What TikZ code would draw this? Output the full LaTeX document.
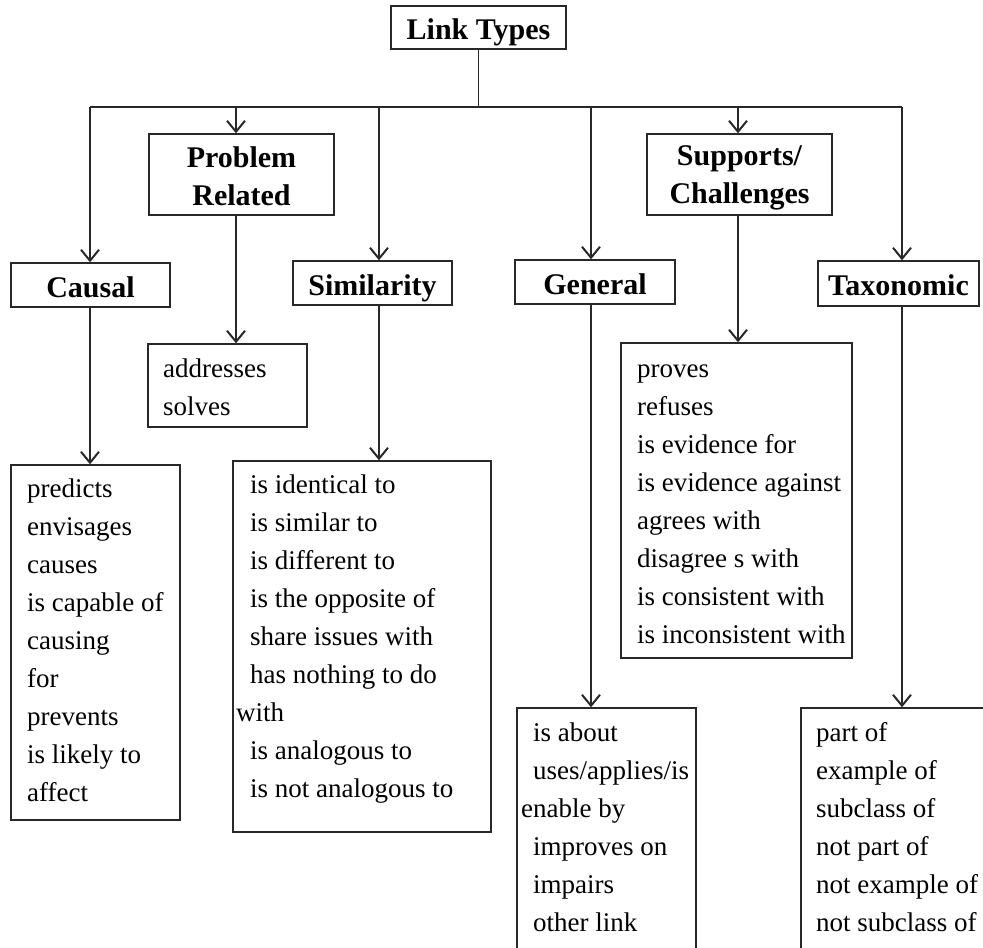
\documentclass[tikz,border=0pt]{standalone}
\usepackage{fontspec}
\setmainfont{Liberation Serif}
\usetikzlibrary{arrows.meta}
\definecolor{ln}{RGB}{40,40,40}
\newcommand{\Li}[1]{\strut #1}
\newcommand{\TopS}{\rule{0pt}{26.6pt}}
\newcommand{\BotS}{\rule[-3.4pt]{0pt}{0pt}}
\begin{document}
\begin{tikzpicture}[x=1pt,y=-1pt,
  box/.style={draw=ln,line width=1.4pt,inner sep=0pt,rectangle},
  hdr/.style={box,font=\bfseries\fontsize{30}{38}\selectfont,align=center},
  one/.style={text height=24pt,text depth=0pt},
  listtext/.style={font=\fontsize{27}{38}\selectfont,align=left,inner sep=0pt,anchor=north west},
  conn/.style={draw=ln,line width=1.3pt},
  arr/.style={conn,-{Straight Barb[length=11pt,width=18pt,line width=2pt]}}]
\useasboundingbox (0,0) rectangle (983,948);
\clip (0,0) rectangle (983,948);
\fill[white] (0,0) rectangle (983,948);
% header nodes
\node[hdr,one,minimum width=175,minimum height=43] (lt) at (478.5,27.5) {Link Types};
\node[hdr,minimum width=185,minimum height=81] (prob) at (241.5,174.5) {\TopS Problem\\Related\BotS};
\node[hdr,minimum width=185,minimum height=81] (supp) at (739.5,174.5) {\TopS Supports/\\Challenges\BotS};
\node[hdr,one,minimum width=159,minimum height=44] (causal) at (90.5,285) {Causal};
\node[hdr,one,minimum width=159,minimum height=44] (sim) at (372.5,283) {Similarity};
\node[hdr,one,minimum width=160,minimum height=44] (gen) at (595,282) {General};
\node[hdr,one,minimum width=161,minimum height=45] (tax) at (898.5,283.5) {Taxonomic};
% list boxes
\node[box,minimum width=159,minimum height=83] (plist) at (227.5,385.5) {};
\node[box,minimum width=169,minimum height=355] (clist) at (95.3,642.5) {};
\node[box,minimum width=258,minimum height=371] (slist) at (362,646.5) {};
\node[box,minimum width=231,minimum height=315] (splist) at (736.5,500.5) {};
\node[box,minimum width=179,minimum height=300] (glist) at (606.5,858) {};
\node[box,minimum width=200,minimum height=300] (tlist) at (901,858) {};
% list texts
\node[listtext] (plistT) at (163,350.4) {\Li{addresses}\\\Li{solves}};
\node[listtext] (clistT) at (27,470.4) {\Li{predicts}\\\Li{envisages}\\\Li{causes}\\\Li{is capable of}\\\Li{causing}\\\Li{for}\\\Li{prevents}\\\Li{is likely to}\\\Li{affect}};
\node[listtext] (slistT) at (236,466.4) {\Li{\hspace{14pt}is identical to}\\\Li{\hspace{14pt}is similar to}\\\Li{\hspace{14pt}is different to}\\\Li{\hspace{14pt}is the opposite of}\\\Li{\hspace{14pt}share issues with}\\\Li{\hspace{14pt}has nothing to do}\\\Li{with}\\\Li{\hspace{14pt}is analogous to}\\\Li{\hspace{14pt}is not analogous to}};
\node[listtext] (splistT) at (637,350.4) {\Li{proves}\\\Li{refuses}\\\Li{is evidence for}\\\Li{is evidence against}\\\Li{agrees with}\\\Li{disagree s with}\\\Li{is consistent with}\\\Li{is inconsistent with}};
\node[listtext] (glistT) at (521,714.4) {\Li{\hspace{12pt}is about}\\\Li{\hspace{12pt}uses/applies/is}\\\Li{enable by}\\\Li{\hspace{12pt}improves on}\\\Li{\hspace{12pt}impairs}\\\Li{\hspace{12pt}other link}};
\node[listtext] (tlistT) at (816,714.4) {\Li{part of}\\\Li{example of}\\\Li{subclass of}\\\Li{not part of}\\\Li{not example of}\\\Li{not subclass of}};
% bus coordinates
\coordinate (bJ) at (478.5,107);
\coordinate (bC) at (90,107);
\coordinate (bP) at (236,107);
\coordinate (bS) at (379,107);
\coordinate (bG) at (591,107);
\coordinate (bU) at (738,107);
\coordinate (bT) at (902,107);
\draw[conn] (lt.south) -- (bJ);
\draw[conn] (bC) -- (bT);
\draw[arr] (bC) -- (bC |- causal.north);
\draw[arr] (bP) -- (bP |- prob.north);
\draw[arr] (bS) -- (bS |- sim.north);
\draw[arr] (bG) -- (bG |- gen.north);
\draw[arr] (bU) -- (bU |- supp.north);
\draw[arr] (bT) -- (bT |- tax.north);
% lower arrows
\draw[arr] (bC |- causal.south) -- (bC |- clist.north);
\draw[arr] (bP |- prob.south) -- (bP |- plist.north);
\draw[arr] (bS |- sim.south) -- (bS |- slist.north);
\draw[arr] (bU |- supp.south) -- (bU |- splist.north);
\draw[arr] (bG |- gen.south) -- (bG |- glist.north);
\draw[arr] (bT |- tax.south) -- (bT |- tlist.north);
\end{tikzpicture}
\end{document}
